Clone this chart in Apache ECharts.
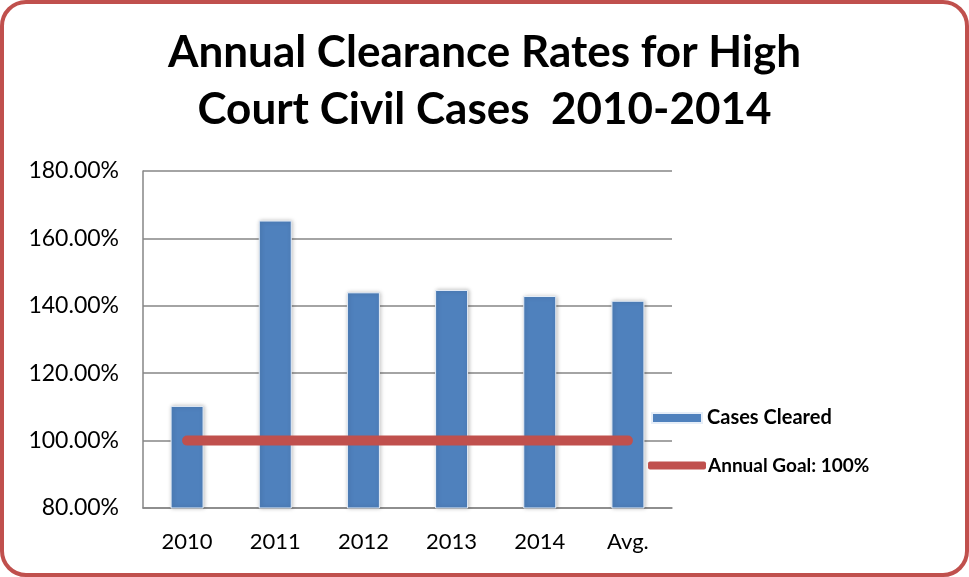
<!DOCTYPE html>
<html>
<head>
<meta charset="utf-8">
<script src="https://cdn.jsdelivr.net/npm/echarts@6/dist/echarts.min.js"></script>
<style>
  html, body { margin: 0; padding: 0; background: #fff; }
  #main {
    width: 969px; height: 577px; box-sizing: border-box;
    border: 4px solid #c0504d; border-radius: 26px; background: #fff;
  }
</style>
</head>
<body>
<div id="main"></div>
<script>
// chart data
const categories = ['2010', '2011', '2012', '2013', '2014', 'Avg.']
const casesCleared = [110.3, 165.3, 144.0, 144.7, 142.9, 141.5]
const annualGoal = [100, 100, 100, 100, 100, 100]
const yTicks = { min: 80, max: 180, interval: 20 }

const chart = echarts.init(document.getElementById('main'))
const font = 'Lato, "Open Sans", sans-serif'

const option = {
  animation: false,
  title: {
    text: 'Annual Clearance Rates for High\nCourt Civil Cases  2010-2014',
    left: 'center',
    top: 15,
    textStyle: {
      fontFamily: font,
      fontWeight: 'bold',
      fontSize: 44,
      lineHeight: 57,
      color: '#000'
    }
  },
  grid: { left: 139, right: 293, top: 167, bottom: 65 },
  legend: [
    {
      data: ['Cases Cleared'],
      left: 642, top: 399,
      itemWidth: 50, itemHeight: 10,
      icon: 'rect',
      textStyle: { fontFamily: font, fontWeight: 'bold', fontSize: 20, color: '#000', padding: [0, 0, 0, 0] }
    },
    {
      data: ['Annual Goal: 100%'],
      left: 639, top: 447,
      itemWidth: 58, itemHeight: 8, itemGap: 0,
      icon: 'roundRect',
      textStyle: { fontFamily: font, fontWeight: 'bold', fontSize: 19, color: '#000', padding: [0, 0, 0, -3] }
    }
  ],
  xAxis: {
    type: 'category',
    data: categories,
    axisLine: { lineStyle: { color: '#868686', width: 1.5 } },
    axisTick: { show: false },
    axisLabel: { fontFamily: font, fontSize: 22, color: '#000', margin: 23 }
  },
  yAxis: {
    type: 'value',
    min: yTicks.min,
    max: yTicks.max,
    interval: yTicks.interval,
    axisLine: { show: true, lineStyle: { color: '#868686', width: 1.5 } },
    axisTick: { show: false },
    splitLine: { lineStyle: { color: '#868686', width: 1.5 } },
    axisLabel: {
      fontFamily: font, fontSize: 23, color: '#000', margin: 24,
      formatter: v => v.toFixed(2) + '%'
    }
  },
  series: [
    {
      name: 'Cases Cleared',
      type: 'bar',
      data: casesCleared,
      barWidth: 33,
      itemStyle: {
        color: '#4f81bd',
        borderColor: '#e6eef8',
        borderWidth: 1,
        shadowColor: 'rgba(0,0,0,0.25)',
        shadowBlur: 4,
        shadowOffsetX: 1
      }
    },
    {
      name: 'Annual Goal: 100%',
      type: 'line',
      data: annualGoal,
      symbol: 'none',
      itemStyle: { color: '#c0504d' },
      lineStyle: { color: '#c0504d', width: 10, cap: 'round' },
      z: 5
    }
  ]
}

chart.setOption(option)
</script>
</body>
</html>
